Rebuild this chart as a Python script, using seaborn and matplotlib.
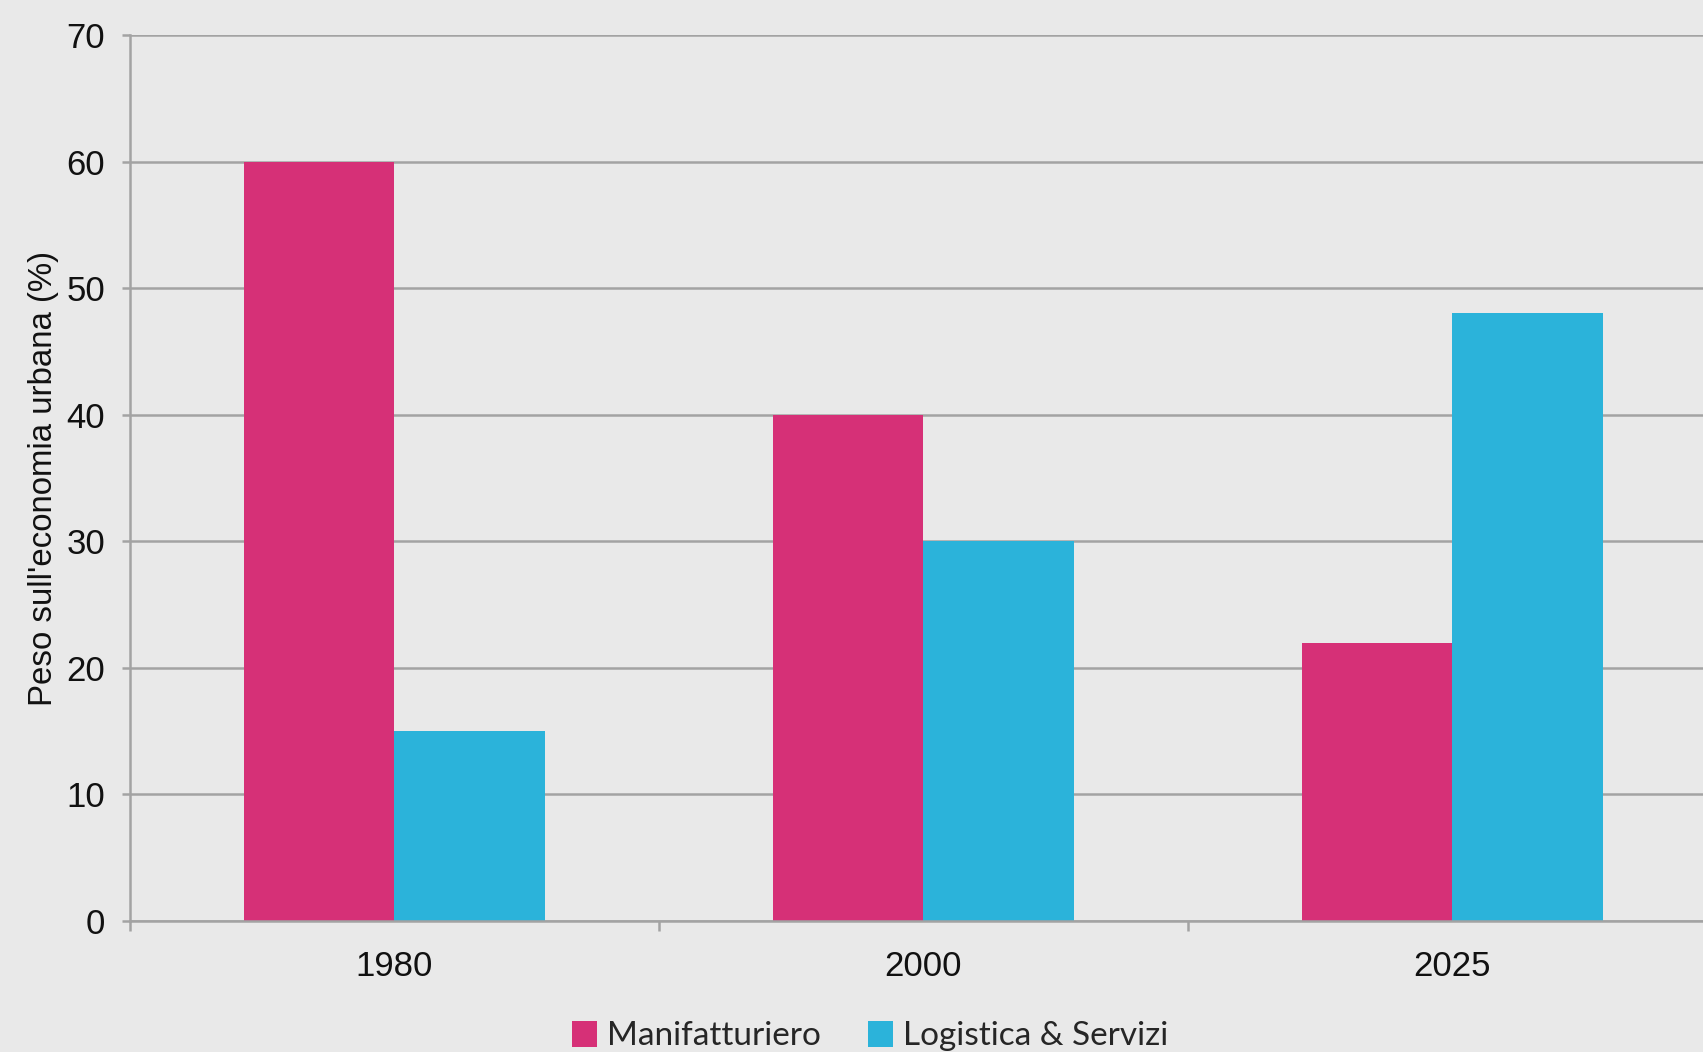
import matplotlib
matplotlib.use("Agg")
import matplotlib.pyplot as plt
import seaborn as sns
import pandas as pd
from matplotlib.ticker import FixedLocator
from matplotlib.patches import Patch

# Data
years = ["1980", "2000", "2025"]
manifatturiero = [60, 40, 22]
logistica_servizi = [15, 30, 48]
series_names = ["Manifatturiero", "Logistica & Servizi"]
colors = ["#D63077", "#2BB3DA"]
y_ticks = [0, 10, 20, 30, 40, 50, 60, 70]

df = pd.DataFrame({
    "Anno": years * 2,
    "Valore": manifatturiero + logistica_servizi,
    "Settore": [series_names[0]] * len(years) + [series_names[1]] * len(years),
})

sns.set_theme(style="white")
plt.rcParams["font.family"] = ["Liberation Sans", "DejaVu Sans"]

bg = "#e9e9e9"
grid_c = "#a3a3a3"

fig = plt.figure(figsize=(17.03, 10.52), dpi=100, facecolor=bg)
ax = fig.add_axes([130 / 1703, 0.1245, 1 - 130 / 1703, 0.8422])
ax.set_facecolor(bg)

sns.barplot(data=df, x="Anno", y="Valore", hue="Settore", order=years,
            hue_order=series_names, palette=colors, width=0.57, gap=0,
            saturation=1, edgecolor="none", linewidth=0, ax=ax, legend=False)

ax.set_ylim(0, 70)
ax.set_xlim(-0.5, 2.474)
ax.set_yticks(y_ticks)
ax.yaxis.grid(True, color=grid_c, linewidth=1.8)
ax.set_axisbelow(True)

for s in ["top", "right"]:
    ax.spines[s].set_visible(False)
for s in ["left", "bottom"]:
    ax.spines[s].set_color(grid_c)
    ax.spines[s].set_linewidth(1.8)

ax.tick_params(axis="y", which="major", length=6, width=1.8, color=grid_c,
               pad=12, labelsize=25, labelcolor="#111111", left=True)
ax.tick_params(axis="x", which="major", length=0, pad=21, labelsize=25,
               labelcolor="#111111")
ax.xaxis.set_minor_locator(FixedLocator([-0.5, 0.5, 1.5, 2.5]))
ax.tick_params(axis="x", which="minor", length=7, width=1.8, color=grid_c,
               bottom=True)

ax.set_xlabel("")
ax.set_ylabel("Peso sull'economia urbana (%)", fontsize=23.8, color="#111111",
              labelpad=5)

handles = [Patch(facecolor=c, edgecolor="none") for c in colors]
fig.legend(handles, series_names, loc="center", bbox_to_anchor=(0.511, 0.015),
           ncol=2, frameon=False, prop={"family": "Lato", "size": 24},
           handlelength=0.75, handleheight=0.8, handletextpad=0.3,
           columnspacing=1.4)

fig.savefig("out.png", dpi=100, facecolor=bg)
